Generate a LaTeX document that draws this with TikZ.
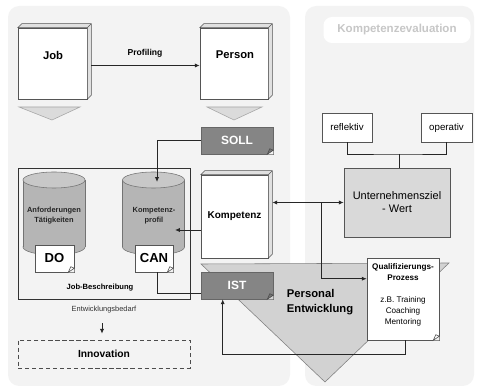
\documentclass[tikz,border=0pt]{standalone}
\usepackage{fontspec}
\setmainfont{Liberation Sans}
\usetikzlibrary{calc,arrows.meta}

\newlength\pxu
\setlength\pxu{0.025cm}
\definecolor{panelbg}{HTML}{F3F3F3}
\definecolor{linegray}{HTML}{555555}
\definecolor{tagfill}{HTML}{858585}
\definecolor{cylbody}{HTML}{B5B5B5}
\definecolor{cyltop}{HTML}{C8C8C8}
\definecolor{trifill}{HTML}{D2D2D2}
\definecolor{zielfill}{HTML}{D9D9D9}

\begin{document}
\begin{tikzpicture}[x=0.025cm, y=-0.025cm,
    box/.style={draw=linegray, fill=white, inner sep=0pt},
    sz/.style 2 args={minimum width=#1*\pxu, minimum height=#2*\pxu},
    face/.style={draw=linegray, fill=black!12},
    tag/.style={box, fill=tagfill, draw=black!60, text=white, font=\fontsize{8.5}{9}\selectfont\bfseries},
    cyl/.style={draw=black!55, fill=cylbody},
    cyltxt/.style={font=\fontsize{5.3}{7}\selectfont\bfseries, align=center, text=black!85, inner sep=0pt},
    conn/.style={draw=black!85, line width=0.6pt},
    tip/.style={-{Latex[length=3.5pt,width=3pt]}}]
  \useasboundingbox (0,0) rectangle (480,392);
  \fill[white] (0,0) rectangle (480,392);
  % panels
  \fill[panelbg, rounded corners=8pt] (8,6) rectangle (290,386);
  \fill[panelbg, rounded corners=8pt] (305,6) rectangle (474,386);
  \node[fill=white, rounded corners=6pt, sz={147}{26}, text=black!22, font=\fontsize{8.2}{9}\selectfont\bfseries] (evalhdr) at (397,30) {Kompetenzevaluation};

  % job / person
  \node[box, sz={69}{71}] (job) at (52.5,63.5) {};
  \node[box, sz={68}{71}] (person) at (234,63.5) {};
  \node[box, sz={67}{83}, font=\fontsize{7.1}{8}\selectfont\bfseries] (komp) at (234.5,216.5) {Kompetenz};
  \foreach \bx in {job,person,komp}
    \draw[face] (\bx.north west) -- ++(4,-4) -- ($(\bx.north east)+(4,-4)$) -- ($(\bx.south east)+(4,-4)$) -- (\bx.south east) -- (\bx.north east) -- cycle
      (\bx.north east) -- ++(4,-4);
  \node[font=\fontsize{8}{9}\selectfont\bfseries] (jobtxt) at (53,55) {Job};
  \node[font=\fontsize{8}{9}\selectfont\bfseries] (persontxt) at (235,55) {Person};
  \draw[conn, tip] ($(job.east)+(4,2)$) -- ($(person.west)+(0,2)$);
  \node[font=\fontsize{6.1}{7}\selectfont\bfseries] (proftxt) at (145,53) {Profiling};
  \fill[trifill!80, draw=black!35] (19,107) -- (80,107) -- (52,120) -- cycle;
  \fill[trifill!80, draw=black!35] (207,107) -- (262,107) -- (234,120) -- cycle;

  % job description
  \node[draw=black!80, sz={172}{131}, inner sep=0pt] (jobdesc) at (104,233.5) {};
  \node[font=\fontsize{5.4}{6}\selectfont\bfseries] (jdtxt) at (100,288) {Job-Beschreibung};
  \foreach \cx in {54,153.5} {
    \draw[cyl] (\cx,247) ellipse[x radius=31, y radius=8];
    \fill[cylbody] (\cx-31,180) rectangle (\cx+31,247);
    \draw[draw=black!55] (\cx-31,180) -- (\cx-31,247) (\cx+31,180) -- (\cx+31,247);
    \draw[cyl, fill=cyltop] (\cx,180) ellipse[x radius=31, y radius=8];
  }
  \node[cyltxt] (anf) at (54,216) {Anforderungen\\Tätigkeiten};
  \node[cyltxt] (kprof) at (154,216) {Kompetenz-\\profil};
  \node[box, sz={39}{27}, font=\fontsize{9.3}{10}\selectfont\bfseries] (do) at (54.5,258.5) {DO};
  \node[box, sz={38}{27}, font=\fontsize{9.3}{10}\selectfont\bfseries] (can) at (154,258.5) {CAN};

  % personal entwicklung
  \fill[trifill, draw=black!50] (201,264) -- (449,263) -- (325,382) -- cycle;
  \node[tag, sz={72}{27}] (soll) at (237,140.5) {SOLL};
  \node[tag, sz={72}{27}] (ist) at (237,285.5) {IST};

  % evaluation
  \node[box, sz={50}{29}, font=\fontsize{6.9}{8}\selectfont] (ref) at (347,127.5) {reflektiv};
  \node[box, sz={51}{29}, font=\fontsize{6.9}{8}\selectfont] (op) at (446.5,127.5) {operativ};
  \node[box, fill=zielfill, sz={106}{69}, align=center, font=\fontsize{7.8}{9.2}\selectfont] (ziel) at (397,202.5) {Unternehmensziel\\- Wert};
  \coordinate (jn) at (399,154);
  \draw[conn] (ref.south) |- (jn) -| (op.south);
  \draw[conn] (jn) -- (jn |- ziel.north);

  \node[box, sz={72}{82}] (qual) at (403,299) {};
  \node[align=center, font=\fontsize{5.8}{7.8}\selectfont, inner sep=0pt] (qualtxt) at (403,295)
    {\textbf{Qualifizierungs-}\\\textbf{Prozess}\\[7.5pt]z.B. Training\\Coaching\\Mentoring};

  \foreach \d/\bg/\fl in {soll/panelbg/black!55, ist/trifill/black!55, do/panelbg/white, can/panelbg/white, qual/panelbg/white} {
    \fill[\bg] (\d.south east) -- ++(-6,0) -- ++(6,-4) -- cycle;
    \draw[draw=black!70, fill=\fl] ($(\d.south east)+(-6,0)$) -- ++(6,-4) -- ++(-3.5,-1.6) -- cycle;
  }

  % connectors
  \coordinate (kin) at (157,182);
  \draw[conn, tip] (soll.west) -| (kin);
  \coordinate (kdot) at (175,230);
  \draw[conn, tip] (komp.west |- kdot) -- (kdot);
  \draw[conn] ($(can.south)+(3,0)$) |- ($(ist.south west)+(0,-6)$);
  \draw[conn, {Latex[length=3.5pt,width=3pt]}-{Latex[length=3.5pt,width=3pt]}] ($(komp.east |- ziel.west)+(4,0)$) -- (ziel.west);
  \coordinate (br) at ($(ziel.west)+(-22,0)$);
  \draw[conn, tip] (br) |- ($(qual.north west)+(0,21)$);
  \draw[conn, tip] ($(qual.south)+(2,0)$) -- ++(0,14) -| ($(ist.south west)+(22,0)$);

  \node[align=left, font=\fontsize{8}{10.6}\selectfont\bfseries] (pe) at (320,302.5) {Personal\\Entwicklung};

  % innovation
  \node[font=\fontsize{5.3}{6}\selectfont, text=black!80] (bedarf) at (104,310) {Entwicklungsbedarf};
  \node[draw=black!70, dash pattern=on 3pt off 2pt, sz={172}{28}, font=\fontsize{7.3}{8}\selectfont\bfseries] (innov) at (104,354) {Innovation};
  \draw[conn, tip] ($(bedarf.south)+(-2,5)$) -- ($(innov.north)+(-2,-6)$);
\end{tikzpicture}
\end{document}
